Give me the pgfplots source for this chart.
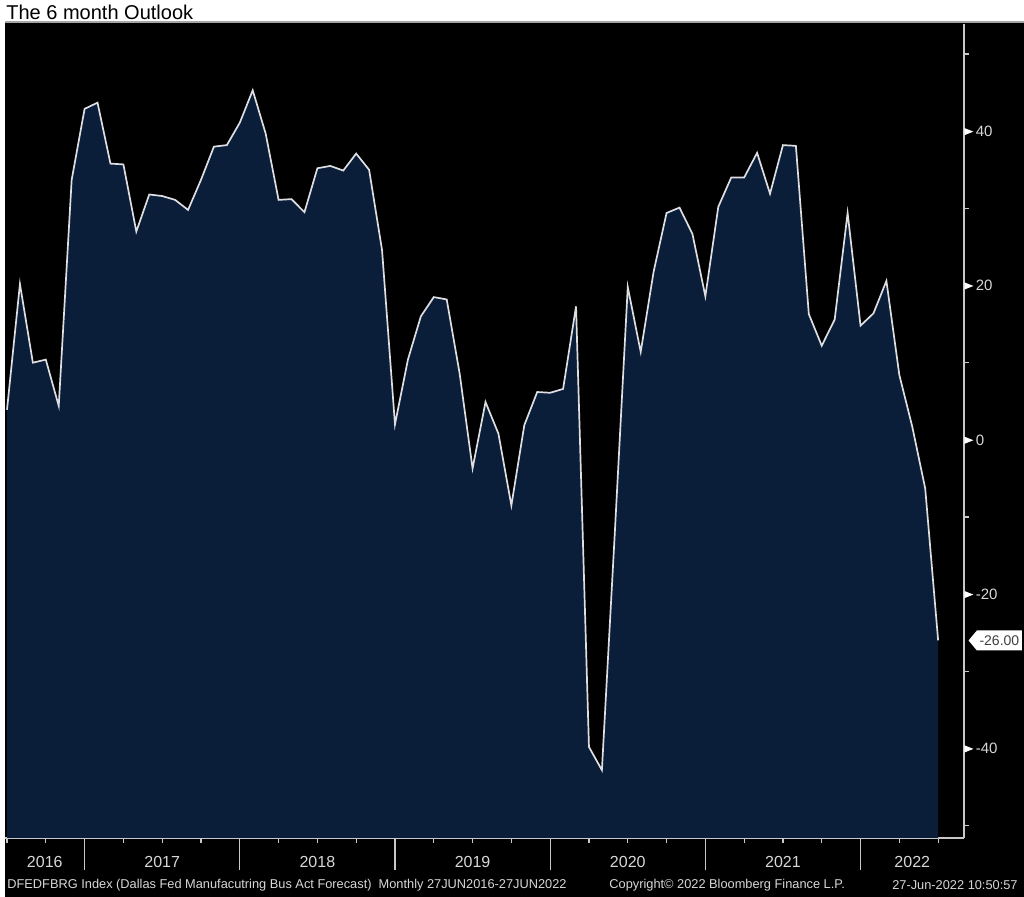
\documentclass[border=0pt]{standalone}
\usepackage{pgfplots}
\pgfplotsset{compat=1.18}
\usepackage{pgfplotstable}
\usepgfplotslibrary{fillbetween}
\usetikzlibrary{shapes.symbols}
\usepackage{fontspec}
\setmainfont{Liberation Sans}
\definecolor{bbnavy}{RGB}{10,30,57}
\definecolor{bbline}{RGB}{222,222,226}
\definecolor{bbaxis}{RGB}{200,200,200}
\definecolor{bblabel}{RGB}{215,215,215}
\pagecolor{black}

% month index 0 = Jun 2016 ... 72 = Jun 2022
\pgfplotstableread{
m v
0 3.9
1 20.2
2 10.0
3 10.4
4 4.4
5 33.7
6 42.9
7 43.7
8 35.8
9 35.7
10 27.0
11 31.8
12 31.6
13 31.1
14 29.8
15 33.7
16 38.0
17 38.2
18 41.1
19 45.3
20 39.7
21 31.1
22 31.2
23 29.5
24 35.2
25 35.5
26 34.9
27 37.1
28 35.0
29 24.6
30 2.0
31 10.4
32 16.0
33 18.5
34 18.2
35 8.6
36 -3.7
37 4.9
38 0.8
39 -8.5
40 1.9
41 6.2
42 6.1
43 6.6
44 17.3
45 -39.8
46 -42.8
47 -12.0
48 19.8
49 11.4
50 21.8
51 29.4
52 30.1
53 26.7
54 18.6
55 30.2
56 34.0
57 34.0
58 37.2
59 31.9
60 38.2
61 38.1
62 16.3
63 12.2
64 15.6
65 29.4
66 14.8
67 16.4
68 20.6
69 8.4
70 1.7
71 -6.3
72 -26.0
}\outlook

\newcommand{\tri}{\tikz[baseline=-0.6ex]\fill[white] (0,-1.8pt)--(4.5pt,0)--(0,1.8pt)--cycle;\hspace{1.2pt}}

\begin{document}
\begin{tikzpicture}
% white strips outside the black chart panel
\fill[white] (0,437.5pt) rectangle (512pt,448.5pt);
\fill[white] (0,0) rectangle (2.5pt,448.5pt);
\draw[gray!70, line width=0.6pt] (2.5pt,437.5pt) -- (512pt,437.5pt);
\node[anchor=base west, inner sep=0pt, font=\fontsize{10}{12}\selectfont] at (3pt,438.8pt) {The 6 month Outlook};

\begin{axis}[
  at={(2.5pt,29.5pt)}, anchor=south west,
  scale only axis, width=479.5pt, height=407pt,
  xmin=-0.155, xmax=74.0, ymin=-51.6, ymax=53.9,
  clip=false,
  axis x line*=bottom, axis y line*=right,
  axis line style={bbaxis, line width=0.6pt, -},
  tick align=outside,
  major tick length=0pt, minor tick length=2.5pt,
  tick style={bbaxis, line width=0.6pt},
  ytick={-40,-20,0,20,40},
  yticklabels={\tri-40,\tri-20,\tri0,\tri20,\tri40},
  minor ytick={-50,-30,-10,10,30,50},
  xtick={2.92,12,24,36,48,60,70},
  xticklabels={2016,2017,2018,2019,2020,2021,2022},
  minor xtick={0,3,9,12,15,21,24,27,33,36,39,45,48,51,57,60,63,69,72},
  extra x ticks={6,18,30,42,54,66},
  extra x tick labels={},
  extra x tick style={major tick length=16pt, tick style={bbaxis, line width=0.6pt}},
  yticklabel style={anchor=west, inner sep=0pt, xshift=0pt, font=\fontsize{7.5}{8}\selectfont, text=bblabel},
  xticklabel style={anchor=center, yshift=-12pt, font=\fontsize{8}{9}\selectfont, text=bblabel},
]
\addplot[name path=A, draw=none, forget plot] table[x=m, y=v] {\outlook};
\path[name path=B] (axis cs:0,-51.6) -- (axis cs:72,-51.6);
\addplot[fill=bbnavy, draw=none] fill between[of=A and B];
\addplot[bbline, line width=0.85pt] table[x=m, y=v] {\outlook};
\node[signal, signal to=west, signal pointer angle=100, fill=white, inner sep=1.3pt,
  minimum height=10pt, text=black!75, font=\fontsize{7}{8}\selectfont, anchor=west]
  at ([xshift=2pt]axis cs:74,-26) {-26.00};
\end{axis}

\node[anchor=west, inner sep=0pt, text=bblabel, font=\fontsize{6.4}{7}\selectfont] at (3.5pt,6pt)
  {DFEDFBRG Index (Dallas Fed Manufacutring Bus Act Forecast)\ \ Monthly 27JUN2016-27JUN2022};
\node[anchor=west, inner sep=0pt, text=bblabel, font=\fontsize{6.4}{7}\selectfont] at (304.5pt,6pt)
  {Copyright\textcopyright{} 2022 Bloomberg Finance L.P.};
\node[anchor=east, inner sep=0pt, text=bblabel, font=\fontsize{6.4}{7}\selectfont] at (509pt,6pt)
  {27-Jun-2022 10:50:57};
\pgfresetboundingbox
\path[use as bounding box] (0,0) rectangle (512pt,448.5pt);
\end{tikzpicture}
\end{document}
